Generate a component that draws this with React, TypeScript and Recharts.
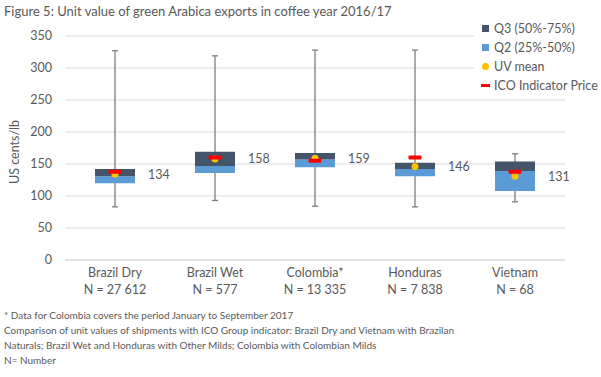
import React from 'react';
import { ComposedChart, Bar, Scatter, XAxis, YAxis, CartesianGrid, Label } from 'recharts';

const categories = ['Brazil Dry', 'Brazil Wet', 'Colombia*', 'Honduras', 'Vietnam'];
const counts = ['N = 27 612', 'N = 577', 'N = 13 335', 'N = 7 838', 'N = 68'];
const minValues = [83, 93, 84, 83, 91];
const q1Values = [120, 136, 145, 131, 108];
const medianValues = [131, 147, 157, 142, 139];
const q3Values = [142, 169, 167, 152, 154];
const maxValues = [327, 319, 328, 328, 166];
const meanValues = [134, 158, 159, 146, 131];
const icoValues = [138, 160, 155, 160, 138];
const yTicks = [0, 50, 100, 150, 200, 250, 300, 350];
const legendLabels = ['Q3 (50%-75%)', 'Q2 (25%-50%)', 'UV mean', 'ICO Indicator Price'];
const titleText = 'Figure 5: Unit value of green Arabica exports in coffee year 2016/17';
const footnotes = [
  '* Data for Colombia covers the period January to September 2017',
  'Comparison of unit values of shipments with ICO Group indicator: Brazil Dry and Vietnam with Brazilan',
  'Naturals; Brazil Wet and Honduras with Other Milds; Colombia with Colombian Milds',
  'N= Number',
];

const FONT = 'Lato, "Open Sans", sans-serif';
const TEXT = '#595959';
const Q3_COLOR = '#44546A';
const Q2_COLOR = '#5B9BD5';
const MEAN_COLOR = '#FFC000';
const ICO_COLOR = '#FF0000';
const WHISKER = '#7F7F7F';
const GRID = '#D9D9D9';

const data = categories.map((c, i) => ({
  name: c,
  min: minValues[i],
  max: maxValues[i],
  base: q1Values[i],
  q2: medianValues[i] - q1Values[i],
  q3: q3Values[i] - medianValues[i],
  mean: meanValues[i],
  ico: icoValues[i],
}));

const XTick = (props: any) => {
  const { x, y, payload, index } = props;
  return (
    <text x={x} y={y} textAnchor="middle" fill={TEXT} fontSize={12.5} fontFamily={FONT}>
      <tspan x={x} dy={17}>{payload.value}</tspan>
      <tspan x={x} dy={17}>{counts[index]}</tspan>
    </text>
  );
};

// Base (transparent) bar spans 0..Q1; its geometry gives the scale for the whiskers.
const WhiskerBase = (props: any) => {
  const { x, y, width, height, payload } = props;
  if (!payload || !height) return <g />;
  const zeroY = y + height;
  const ppu = height / payload.base;
  const cx = x + width / 2;
  const yMin = zeroY - payload.min * ppu;
  const yMax = zeroY - payload.max * ppu;
  return (
    <g stroke={WHISKER} strokeWidth={1.3}>
      <line x1={cx} x2={cx} y1={yMax} y2={yMin} />
      <line x1={cx - 3} x2={cx + 3} y1={yMax} y2={yMax} />
      <line x1={cx - 3} x2={cx + 3} y1={yMin} y2={yMin} />
    </g>
  );
};

const MeanDot = (props: any) => {
  const { cx, cy, payload } = props;
  return (
    <g>
      <circle cx={cx} cy={cy} r={3.5} fill={MEAN_COLOR} />
      <text x={cx + 33} y={cy} dy={4.5} fill={TEXT} fontSize={12.5} fontFamily={FONT}>
        {payload.mean}
      </text>
    </g>
  );
};

const IcoDash = (props: any) => {
  const { cx, cy } = props;
  return <rect x={cx - 6.5} y={cy - 2} width={13} height={4} rx={1} fill={ICO_COLOR} />;
};

const LegendBox = () => (
  <div style={{ position: 'absolute', left: 474, top: 17, width: 127, background: '#fff', padding: '2px 0 4px 6px', fontFamily: FONT, fontSize: 12.5, color: TEXT, boxSizing: 'border-box' }}>
    {legendLabels.map((l, i) => (
      <div key={l} style={{ height: 19, display: 'flex', alignItems: 'center', whiteSpace: 'nowrap' }}>
        <span style={{ width: 10, display: 'inline-flex', justifyContent: 'center', marginRight: 4 }}>
          {i === 0 && <span style={{ width: 7, height: 7, background: Q3_COLOR }} />}
          {i === 1 && <span style={{ width: 7, height: 7, background: Q2_COLOR }} />}
          {i === 2 && <span style={{ width: 7, height: 7, borderRadius: 4, background: MEAN_COLOR }} />}
          {i === 3 && <span style={{ width: 9, height: 3, background: ICO_COLOR }} />}
        </span>
        <span>{l}</span>
      </div>
    ))}
  </div>
);

export default function App() {
  return (
    <div style={{ position: 'absolute', left: 0, top: 0, width: 601, height: 377, background: '#fff', overflow: 'hidden' }}>
      <div style={{ position: 'absolute', left: 4, top: 3, fontFamily: FONT, fontSize: 13, color: TEXT, whiteSpace: 'nowrap' }}>
        {titleText}
      </div>
      <div style={{ position: 'absolute', left: 0, top: 0 }}>
        <ComposedChart width={601} height={300} data={data} margin={{ top: 36, right: 36, bottom: 0, left: 15 }}>
          <CartesianGrid vertical={false} stroke={GRID} />
          <XAxis dataKey="name" tickLine={false} axisLine={{ stroke: GRID }} height={40} tickSize={0} tickMargin={0} interval={0} tick={<XTick />} />
          <YAxis width={50} domain={[0, 350]} ticks={yTicks} tickLine={false} axisLine={false} tickSize={0} tickMargin={13}
            tick={{ fill: TEXT, fontSize: 12.5, fontFamily: FONT }}>
            <Label content={() => (
              <text transform="translate(19,152) rotate(-90)" textAnchor="middle" fill={TEXT} fontSize={12.5} fontFamily={FONT}>US cents/lb</text>
            )} />
          </YAxis>
          <Bar dataKey="base" stackId="box" fill="transparent" barSize={40} shape={<WhiskerBase />} isAnimationActive={false} />
          <Bar dataKey="q2" stackId="box" fill={Q2_COLOR} barSize={40} isAnimationActive={false} />
          <Bar dataKey="q3" stackId="box" fill={Q3_COLOR} barSize={40} isAnimationActive={false} />
          <Scatter dataKey="mean" shape={<MeanDot />} isAnimationActive={false} />
          <Scatter dataKey="ico" shape={<IcoDash />} isAnimationActive={false} />
        </ComposedChart>
      </div>
      <LegendBox />
      <div style={{ position: 'absolute', left: 4, top: 308, fontFamily: FONT, fontSize: 10, color: TEXT, lineHeight: '15px', whiteSpace: 'nowrap' }}>
        {footnotes.map((f) => (
          <div key={f}>{f}</div>
        ))}
      </div>
    </div>
  );
}
